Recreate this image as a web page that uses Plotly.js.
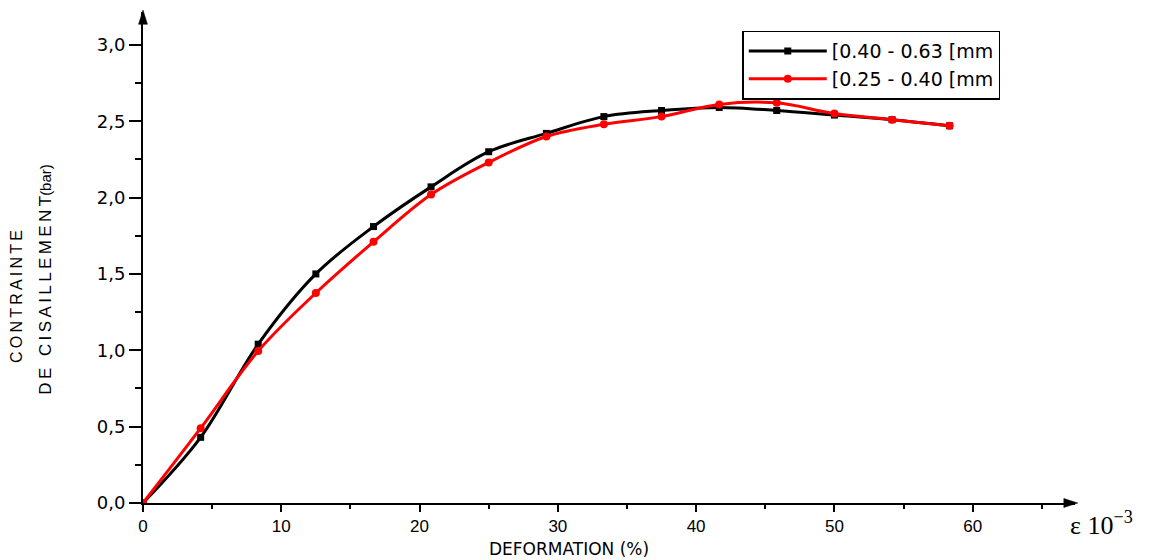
<!DOCTYPE html>
<html><head><meta charset="utf-8">
<script src="https://cdn.plot.ly/plotly-3.0.1.min.js"></script>
<style>body{margin:0;background:#fff}#chart{width:1153px;height:560px}</style>
</head><body><div id="chart"></div>
<script>
const deformation = [0, 4.17, 8.33, 12.5, 16.67, 20.83, 25, 29.17, 33.33, 37.5, 41.67, 45.83, 50, 54.17, 58.33];
const seriesCoarse = [0, 0.43, 1.04, 1.50, 1.81, 2.07, 2.30, 2.42, 2.53, 2.57, 2.59, 2.57, 2.54, 2.51, 2.47];
const seriesFine = [0, 0.49, 0.995, 1.375, 1.71, 2.02, 2.23, 2.40, 2.48, 2.53, 2.61, 2.62, 2.55, 2.51, 2.47];
const seriesNames = ["[0.40 - 0.63 [mm", "[0.25 - 0.40 [mm"];
const xTicks = [0, 10, 20, 30, 40, 50, 60];
const yTicks = [0, 0.5, 1.0, 1.5, 2.0, 2.5, 3.0];

const traces = [
  {x: deformation, y: seriesCoarse, name: seriesNames[0], type: 'scatter', mode: 'lines+markers',
   line: {color: '#000000', width: 3, shape: 'spline', smoothing: 1},
   marker: {symbol: 'square', size: 7, color: '#000000'}},
  {x: deformation, y: seriesFine, name: seriesNames[1], type: 'scatter', mode: 'lines+markers',
   line: {color: '#ff0000', width: 3, shape: 'spline', smoothing: 1},
   marker: {symbol: 'circle', size: 8, color: '#ff0000'}}
];

const sp = '\u2009';
const spaced = s => s.split('').join(sp);

const layout = {
  width: 1153, height: 560,
  margin: {l: 143, r: 78, t: 12, b: 57},
  paper_bgcolor: '#fff', plot_bgcolor: '#fff',
  separators: ',.',
  font: {family: 'Liberation Sans, Arial, sans-serif', color: '#000', size: 14},
  showlegend: true,
  legend: {x: 0.643, y: 0.962, xanchor: 'left', yanchor: 'top',
    bordercolor: '#000', borderwidth: 1.5, bgcolor: '#fff',
    font: {size: 19, family: 'DejaVu Sans, sans-serif'}, tracegroupgap: 0,
    itemwidth: 78},
  xaxis: {range: [0, 67.4], tickvals: xTicks, ticktext: xTicks.map(String),
    showgrid: false, zeroline: false, showline: true, linecolor: '#000', linewidth: 2,
    ticks: 'outside', ticklen: 7, tickwidth: 2, tickcolor: '#000',
    minor: {tickvals: [5, 15, 25, 35, 45, 55, 65], ticks: 'outside', ticklen: 4, tickwidth: 2, tickcolor: '#000'},
    tickfont: {size: 17}, fixedrange: true},
  yaxis: {range: [0, 3.215], tickvals: yTicks, ticktext: yTicks.map(v => v.toFixed(1).replace('.', ',')),
    showgrid: false, zeroline: false, showline: true, linecolor: '#000', linewidth: 2,
    ticks: 'outside', ticklen: 12, tickwidth: 2, tickcolor: '#000',
    minor: {tickvals: [0.25, 0.75, 1.25, 1.75, 2.25, 2.75], ticks: 'outside', ticklen: 6, tickwidth: 2, tickcolor: '#000'},
    tickfont: {size: 18, family: 'DejaVu Sans, sans-serif'}, fixedrange: true},
  shapes: [
    {type: 'path', xref: 'paper', yref: 'paper', path: 'M 0 1.004 L -0.0048 0.975 L 0.0048 0.975 Z',
     fillcolor: '#000', line: {color: '#000', width: 0.5}},
    {type: 'path', xref: 'paper', yref: 'paper', path: 'M 1.003 0 L 0.988 0.0092 L 0.988 -0.0092 Z',
     fillcolor: '#000', line: {color: '#000', width: 0.5}}
  ],
  annotations: [
    {xref: 'paper', yref: 'paper', x: 0.457, y: -0.094, yanchor: 'middle', xanchor: 'center', showarrow: false,
     text: 'DEFORMATION (%)', font: {size: 17, family: 'DejaVu Sans, sans-serif'}},
    {xref: 'paper', yref: 'paper', x: 0.993, y: -0.041, yanchor: 'middle', xanchor: 'left', showarrow: false,
     text: 'ε 10<sup>−3</sup>', font: {size: 26, family: 'Liberation Serif, Times New Roman, serif'}},
    {xref: 'paper', yref: 'paper', x: -0.135, y: 0.42, xanchor: 'center', yanchor: 'middle', showarrow: false, textangle: -90,
     text: spaced('CONTRAINTE'), font: {size: 16}},
    {xref: 'paper', yref: 'paper', x: -0.104, y: 0.455, xanchor: 'center', yanchor: 'middle', showarrow: false, textangle: -90,
     text: spaced('DE CISAILLEMENT') + '<span style="font-size:15px">(bar)</span>', font: {size: 17}}
  ]
};

Plotly.newPlot('chart', traces, layout, {staticPlot: true, displayModeBar: false});
</script>
</body></html>
